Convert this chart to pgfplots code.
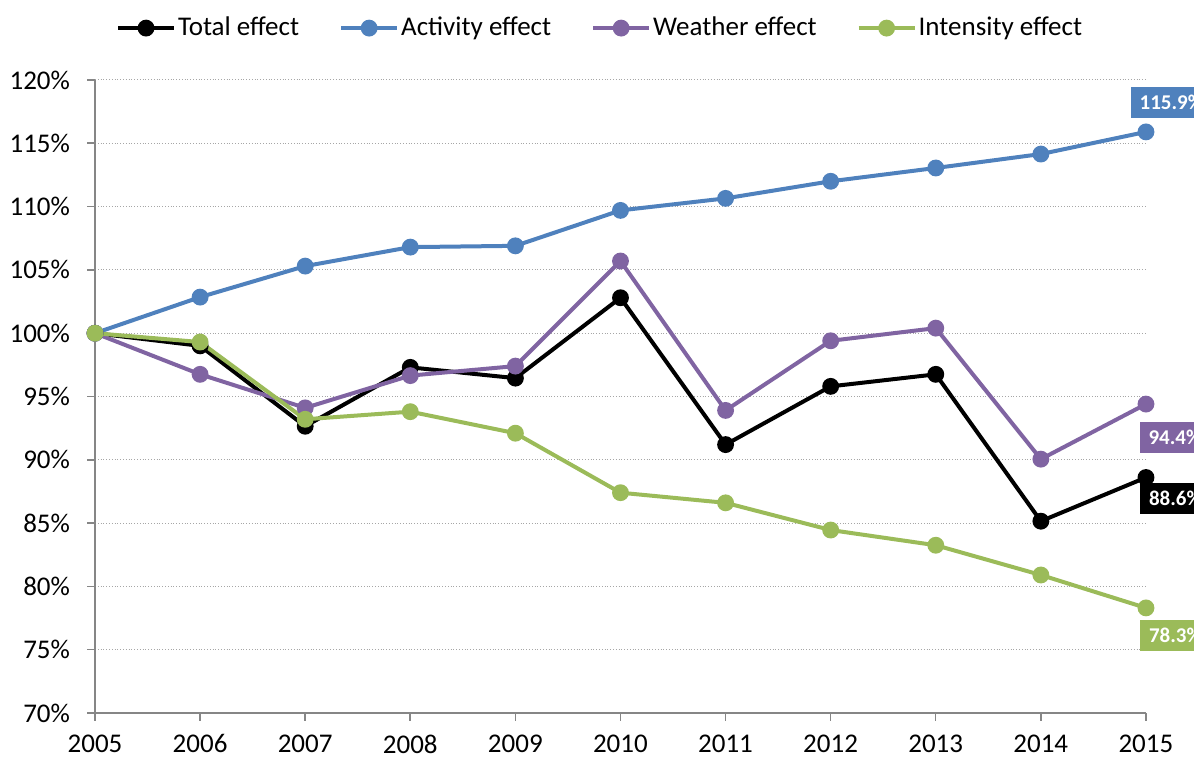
\documentclass[border=0pt]{standalone}
\usepackage{pgfplots}
\pgfplotsset{compat=1.18}
\usepackage{fontspec}
\setmainfont{Carlito}

\definecolor{totalc}{HTML}{000000}
\definecolor{activityc}{HTML}{4F81BD}
\definecolor{weatherc}{HTML}{8064A2}
\definecolor{intensityc}{HTML}{9BBB59}
\definecolor{axisgray}{HTML}{868686}

\begin{document}
\begin{tikzpicture}
\begin{axis}[
  scale only axis,
  width=525.5pt, height=316.5pt,
  xmin=2005, xmax=2015,
  ymin=70, ymax=120,
  xtick={2005,...,2015},
  ytick={70,75,...,120},
  /pgf/number format/assume math mode=true,
  /pgf/number format/1000 sep={},
  yticklabel={\pgfmathprintnumber{\tick}\%},
  axis x line*=bottom,
  axis y line*=left,
  axis line style={axisgray, line width=0.8pt},
  tick style={axisgray, line width=0.8pt},
  tick align=outside,
  major tick length=4pt,
  ymajorgrids,
  major grid style={gray!70, densely dotted, line width=0.5pt},
  ticklabel style={font=\fontsize{13.5}{16}\selectfont},
  xticklabel style={anchor=north, yshift=-3.3pt},
  yticklabel style={anchor=east, xshift=-5pt},
  every axis plot/.append style={line width=2pt, mark=*, mark size=3.2pt},
  clip=false,
  legend columns=4,
  legend style={
    at={(0.4815,1.082)}, anchor=center,
    draw=none, fill=none,
    font=\fontsize{13.5}{16}\selectfont,
    /tikz/every even column/.append style={column sep=18pt},
    /tikz/every odd column/.append style={column sep=-1pt},
  },
  legend image code/.code={
    \draw[mark repeat=2, mark phase=2, #1]
      plot coordinates {(0pt,0pt) (14pt,0pt) (28pt,0pt)};
  },
]
\addplot[color=totalc, mark options={fill=totalc}] coordinates {
  (2005,100) (2006,99.0) (2007,92.65) (2008,97.3) (2009,96.45)
  (2010,102.8) (2011,91.2) (2012,95.8) (2013,96.75) (2014,85.15) (2015,88.6)
};
\addlegendentry{Total effect}
\addplot[color=activityc, mark options={fill=activityc}] coordinates {
  (2005,100) (2006,102.85) (2007,105.3) (2008,106.8) (2009,106.9)
  (2010,109.7) (2011,110.65) (2012,112.0) (2013,113.05) (2014,114.15) (2015,115.9)
};
\addlegendentry{Activity effect}
\addplot[color=weatherc, mark options={fill=weatherc}] coordinates {
  (2005,100) (2006,96.75) (2007,94.1) (2008,96.65) (2009,97.4)
  (2010,105.7) (2011,93.9) (2012,99.4) (2013,100.4) (2014,90.05) (2015,94.4)
};
\addlegendentry{Weather effect}
\addplot[color=intensityc, mark options={fill=intensityc}] coordinates {
  (2005,100) (2006,99.3) (2007,93.2) (2008,93.8) (2009,92.1)
  (2010,87.4) (2011,86.6) (2012,84.45) (2013,83.25) (2014,80.9) (2015,78.3)
};
\addlegendentry{Intensity effect}

% value boxes at the last year
\tikzset{valbox/.style={anchor=west, text=white, inner xsep=4.5pt,
  minimum height=15.5pt, inner ysep=0pt,
  font=\fontsize{10.5}{12}\selectfont\bfseries}}
\node[valbox, fill=activityc] at (axis cs:2014.85,118.26) {115.9\%};
\node[valbox, fill=weatherc] at (axis cs:2014.935,91.8) {94.4\%};
\node[valbox, fill=totalc] at (axis cs:2014.94,86.95) {88.6\%};
\node[valbox, fill=intensityc] at (axis cs:2014.94,76.1) {78.3\%};

\coordinate (bbSW) at (axis cs:2004.096,66.445);
\coordinate (bbNE) at (axis cs:2015.457,126.32);
\end{axis}
\pgfresetboundingbox
\useasboundingbox (bbSW) rectangle (bbNE);
\end{tikzpicture}
\end{document}
